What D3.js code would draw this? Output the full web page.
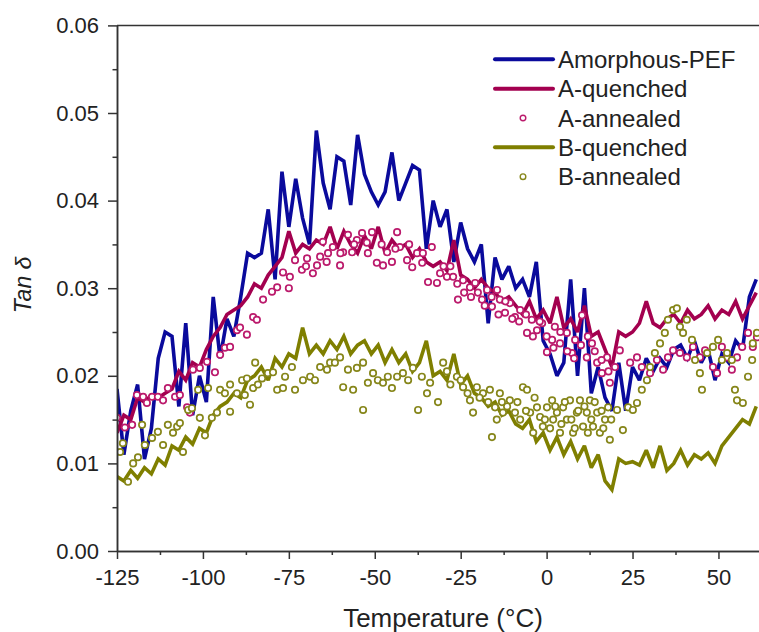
<!DOCTYPE html>
<html><head><meta charset="utf-8">
<script src="https://cdn.jsdelivr.net/npm/d3@7"></script>
<style>
body{margin:0;background:#fff}
svg{display:block}
text{font-family:"Liberation Sans",Arial,sans-serif;fill:#222}
</style>
</head><body>
<svg id="c" width="759" height="632"></svg>
<script>
// ---------------- DATA ----------------
const temps = [-125,-123,-121,-119,-117,-115,-113,-111,-109,-107,-105,-103,-101,-99,-97,-95,-93,-91,-89,-87,
  -85,-83,-81,-79,-77,-75,-73,-71,-69,-67,-65,-63,-61,-59,-57,-55,-53,-51,-49,-47,
  -45,-43,-41,-39,-37,-35,-33,-31,-29,-27,-25,-23,-21,-19,-17,-15,-13,-11,-9,-7,
  -5,-3,-1,1,3,5,7,9,11,13,15,17,19,21,23,25,27,29,31,33,
  35,37,39,41,43,45,47,49,51,53,55,57,59,61];

const amorphousPEF = [0.0185,0.0110,0.0160,0.0190,0.0105,0.0140,0.0220,0.0250,0.0245,0.0165,
  0.0260,0.0155,0.0200,0.0170,0.0290,0.0220,0.0265,0.0245,0.0290,0.0340,
  0.0335,0.0340,0.0390,0.0310,0.0433,0.0370,0.0425,0.0380,0.0350,0.0480,
  0.0420,0.0390,0.0450,0.0445,0.0395,0.0475,0.0430,0.0410,0.0395,0.0410,
  0.0455,0.0400,0.0420,0.0440,0.0435,0.0345,0.0400,0.0370,0.0390,0.0330,
  0.0375,0.0345,0.0330,0.0350,0.0260,0.0335,0.0310,0.0325,0.0300,0.0310,
  0.0290,0.0330,0.0240,0.0225,0.0200,0.0215,0.0310,0.0200,0.0300,0.0180,
  0.0210,0.0175,0.0160,0.0215,0.0160,0.0210,0.0195,0.0220,0.0205,0.0220,
  0.0210,0.0230,0.0235,0.0220,0.0240,0.0215,0.0230,0.0195,0.0225,0.0215,
  0.0240,0.0230,0.0290,0.0310];

const aQuenched = [0.0135,0.0155,0.0150,0.0175,0.0170,0.0178,0.0175,0.0180,0.0185,0.0205,
  0.0195,0.0215,0.0210,0.0230,0.0245,0.0255,0.0270,0.0275,0.0280,0.0290,
  0.0305,0.0300,0.0315,0.0325,0.0335,0.0365,0.0340,0.0350,0.0345,0.0355,
  0.0350,0.0370,0.0345,0.0365,0.0350,0.0340,0.0360,0.0345,0.0370,0.0340,
  0.0355,0.0345,0.0350,0.0335,0.0345,0.0330,0.0325,0.0330,0.0320,0.0355,
  0.0315,0.0310,0.0300,0.0310,0.0300,0.0295,0.0285,0.0290,0.0280,0.0270,
  0.0285,0.0265,0.0275,0.0260,0.0290,0.0255,0.0265,0.0250,0.0280,0.0245,
  0.0250,0.0230,0.0210,0.0250,0.0245,0.0250,0.0260,0.0285,0.0260,0.0255,
  0.0265,0.0270,0.0260,0.0275,0.0265,0.0270,0.0280,0.0265,0.0275,0.0270,
  0.0285,0.0265,0.0280,0.0295];

const bQuenched = [0.0085,0.0080,0.0092,0.0083,0.0095,0.0088,0.0105,0.0098,0.0120,0.0115,
  0.0130,0.0122,0.0140,0.0135,0.0155,0.0165,0.0170,0.0180,0.0175,0.0195,
  0.0200,0.0210,0.0195,0.0220,0.0210,0.0225,0.0220,0.0255,0.0225,0.0235,
  0.0225,0.0240,0.0230,0.0245,0.0225,0.0235,0.0240,0.0225,0.0235,0.0215,
  0.0230,0.0215,0.0225,0.0205,0.0215,0.0240,0.0200,0.0205,0.0195,0.0225,
  0.0190,0.0200,0.0180,0.0175,0.0165,0.0170,0.0155,0.0160,0.0145,0.0140,
  0.0150,0.0125,0.0135,0.0115,0.0130,0.0110,0.0125,0.0105,0.0120,0.0095,
  0.0110,0.0080,0.0070,0.0105,0.0100,0.0102,0.0098,0.0115,0.0095,0.0120,
  0.0092,0.0100,0.0115,0.0098,0.0110,0.0105,0.0112,0.0100,0.0120,0.0130,
  0.0140,0.0150,0.0145,0.0165];

const aAnnealed = [[-125.0,0.0152],[-122.7,0.0141],[-120.6,0.0144],[-119.2,0.0178],[-117.4,0.0176],
  [-116.3,0.0169],[-114.8,0.0176],[-113.1,0.0176],[-111.6,0.0172],[-110.2,0.0186],[-108.1,0.0176],
  [-106.7,0.0178],[-104.6,0.0164],[-103.8,0.0158],[-102.9,0.0207],[-100.9,0.0209],[-98.8,0.0216],
  [-96.5,0.0204],[-95.0,0.0224],[-93.6,0.0232],[-92.1,0.0233],[-90.1,0.0252],[-89.2,0.0255],
  [-87.2,0.0247],[-85.4,0.0267],[-84.3,0.0264],[-82.5,0.0287],[-79.9,0.0296],[-78.4,0.0301],
  [-76.7,0.0318],[-74.7,0.0313],[-73.2,0.0332],[-71.2,0.0321],[-69.7,0.0334],[-68.0,0.0317],
  [-66.8,0.0326],[-65.9,0.0336],[-65.1,0.0353],[-63.6,0.0340],[-62.2,0.0347],[-60.1,0.0326],
  [-59.2,0.0341],[-57.8,0.0361],[-56.6,0.0341],[-55.2,0.0355],[-53.7,0.0363],[-52.3,0.0352],
  [-50.8,0.0364],[-49.4,0.0329],[-47.6,0.0326],[-46.4,0.0341],[-45.0,0.0330],[-43.5,0.0364],
  [-42.7,0.0347],[-40.6,0.0332],[-39.1,0.0324],[-37.7,0.0340],[-36.2,0.0329],[-34.5,0.0307],
  [-33.4,0.0347],[-31.9,0.0306],[-31.0,0.0317],[-29.0,0.0313],[-27.2,0.0313],[-25.8,0.0287],
  [-24.3,0.0309],[-22.3,0.0301],[-20.8,0.0306],[-18.8,0.0287],[-17.3,0.0298],[-15.9,0.0279],
  [-14.4,0.0298],[-13.6,0.0287],[-12.1,0.0272],[-10.7,0.0283],[-9.2,0.0267],[-7.7,0.0275],
  [-5.7,0.0249],[-4.3,0.0264],[-2.8,0.0252],[-1.3,0.0260],[0.1,0.0227],[1.6,0.0241],[2.4,0.0256],
  [3.9,0.0237],[5.9,0.0249],[7.4,0.0226],[8.3,0.0241],[10.3,0.0269],[11.7,0.0221],[13.2,0.0237],
  [14.7,0.0215],[16.1,0.0203],[17.6,0.0221],[18.4,0.0192],[19.9,0.0210],[21.3,0.0229],[24.3,0.0215],
  [26.3,0.0221],[27.7,0.0210],[30.1,0.0203],[32.1,0.0218],[33.9,0.0207],[35.3,0.0221],[36.8,0.0229],
  [38.8,0.0226],[40.8,0.0221],[42.6,0.0233],[44.6,0.0221],[46.1,0.0229],[48.4,0.0210],[49.6,0.0203],
  [51.0,0.0233],[52.5,0.0221],[53.9,0.0207],[55.4,0.0221],[56.9,0.0233],[58.6,0.0249],[60.0,0.0233],
  [61.2,0.0244],
  [-24,0.0295],[-22,0.0290],[-20,0.0295],[-18,0.0280],[-16,0.0290],[-14,0.0270],[-12,0.0285],
  [-10,0.0265],[-8,0.0262],[-6,0.0270],[-4,0.0245],[-2,0.0262],[0,0.0245],[2,0.0232],[4,0.0250],
  [6,0.0228],[8,0.0220],[10,0.0235],[12,0.0245],[14,0.0228],[16,0.0218],[18,0.0205],[-28,0.0325],
  [-30,0.0325],[-26,0.0305],[-36,0.0340],[-40,0.0350],[-44,0.0345],[-48,0.0350],[-52,0.0340],
  [-56,0.0350],[-60,0.0340],[-64,0.0330],[-70,0.0325],[-75,0.0300]];

const bAnnealed = [[-124.1,0.0113],[-123.3,0.0123],[-121.8,0.0079],[-120.3,0.0100],[-118.9,0.0107],
  [-117.7,0.0144],[-116.9,0.0121],[-114.8,0.0129],[-113.1,0.0136],[-111.6,0.0121],[-110.2,0.0144],
  [-108.7,0.0135],[-107.5,0.0142],[-106.7,0.0146],[-105.8,0.0113],[-104.3,0.0161],[-103.2,0.0163],
  [-101.4,0.0184],[-100.9,0.0152],[-99.4,0.0132],[-98.5,0.0186],[-97.4,0.0152],[-95.9,0.0158],
  [-95.0,0.0184],[-93.6,0.0180],[-92.1,0.0190],[-92.1,0.0159],[-90.1,0.0180],[-88.6,0.0195],
  [-87.8,0.0178],[-87.2,0.0197],[-86.3,0.0167],[-85.4,0.0186],[-84.8,0.0215],[-84.0,0.0190],
  [-82.8,0.0197],[-81.1,0.0203],[-79.6,0.0204],[-78.4,0.0184],[-76.7,0.0186],[-76.1,0.0199],
  [-74.1,0.0210],[-73.2,0.0184],[-70.9,0.0195],[-68.8,0.0199],[-67.4,0.0195],[-65.9,0.0210],
  [-63.9,0.0207],[-63.0,0.0215],[-61.6,0.0215],[-60.1,0.0221],[-59.2,0.0187],[-57.8,0.0207],
  [-56.3,0.0184],[-55.2,0.0209],[-53.4,0.0215],[-53.4,0.0161],[-52.0,0.0192],[-50.5,0.0203],
  [-49.1,0.0195],[-47.6,0.0192],[-46.2,0.0199],[-45.0,0.0186],[-43.5,0.0199],[-41.8,0.0203],
  [-40.3,0.0195],[-38.9,0.0209],[-37.4,0.0161],[-36.3,0.0199],[-34.8,0.0180],[-33.9,0.0192],
  [-31.6,0.0170],[-30.1,0.0215],[-26.1,0.0199],[-24.3,0.0187],[-22.3,0.0172],[-21.4,0.0158],
  [-20.3,0.0187],[-18.5,0.0180],[-16.5,0.0184],[-15.9,0.0130],[-15.0,0.0164],[-13.6,0.0180],
  [-12.7,0.0158],[-10.7,0.0172],[-9.2,0.0158],[-7.7,0.0150],[-6.9,0.0187],[-5.7,0.0184],
  [-4.8,0.0158],[-3.9,0.0135],[-2.8,0.0164],[-1.9,0.0153],[-1.1,0.0142],[0.1,0.0164],[1.6,0.0172],
  [1.9,0.0150],[3.0,0.0158],[3.9,0.0135],[4.8,0.0164],[5.9,0.0150],[6.8,0.0172],[7.7,0.0135],
  [8.8,0.0158],[9.7,0.0172],[10.6,0.0142],[11.7,0.0158],[12.6,0.0172],[13.5,0.0142],[14.7,0.0158],
  [15.5,0.0135],[17.0,0.0150],[17.9,0.0164],[18.4,0.0127],[20.5,0.0161],[22.2,0.0138],[23.7,0.0164],
  [25.1,0.0161],[26.3,0.0169],[27.7,0.0184],[29.2,0.0195],[30.1,0.0210],[31.5,0.0226],[33.0,0.0237],
  [34.4,0.0249],[35.3,0.0264],[36.8,0.0275],[37.9,0.0277],[38.8,0.0256],[39.7,0.0249],[40.8,0.0264],
  [42.3,0.0241],[43.2,0.0218],[44.6,0.0203],[45.2,0.0184],[46.7,0.0226],[48.4,0.0233],[49.9,0.0241],
  [51.0,0.0218],[52.5,0.0226],[53.9,0.0218],[54.8,0.0184],[55.4,0.0172],[57.1,0.0169],[58.6,0.0199],
  [59.8,0.0218],[60.0,0.0237],[61.2,0.0249],
  [-8.5,0.0170],[-6,0.0160],[-3.5,0.0175],[-0.5,0.0150],[1,0.0140],[2.5,0.0165],[4.3,0.0145],
  [5.3,0.0170],[7.2,0.0150],[8.2,0.0140],[9.2,0.0160],[11,0.0165],[12,0.0135],[13,0.0150],
  [14,0.0170],[16,0.0160],[16.5,0.0140],[18.8,0.0150],[-11.5,0.0165],[-13,0.0170],[-14.5,0.0150],
  [-17,0.0170],[-19.5,0.0175],[-23,0.0180],[-25,0.0195],[-28,0.0190],[-29,0.0205]];

const xMajorTicks = [-125,-100,-75,-50,-25,0,25,50];
const xMinorTicks = [-112.5,-87.5,-62.5,-37.5,-12.5,12.5,37.5];
const yMajorTicks = [0,0.01,0.02,0.03,0.04,0.05,0.06];
const yMinorTicks = [0.005,0.015,0.025,0.035,0.045,0.055];

const seriesNames = ["Amorphous-PEF","A-quenched","A-annealed","B-quenched","B-annealed"];
const colors = {blue:"#0a0a9c", crimson:"#a3004f", magenta:"#bb1a6c", olive:"#7f7f00", oliveMk:"#86861a"};

// ---------------- CHART ----------------
const svg = d3.select("#c");
const x = d3.scaleLinear().domain([-125, 62]).range([117, 759.7]);
const y = d3.scaleLinear().domain([0, 0.06]).range([551, 25.4]);

svg.append("defs").append("clipPath").attr("id","clip")
  .append("rect").attr("x",117).attr("y",0).attr("width",660).attr("height",551);

const plot = svg.append("g").attr("clip-path","url(#clip)");
const line = d3.line().x((d,i)=>x(temps[i])).y(d=>y(d));

function drawLine(vals, col){
  plot.append("path").datum(vals).attr("d", line)
    .attr("fill","none").attr("stroke",col).attr("stroke-width",3.6)
    .attr("stroke-linejoin","miter").attr("stroke-miterlimit",2.5);
}
function drawPts(pts, col){
  plot.append("g").selectAll("circle").data(pts).join("circle")
    .attr("cx",d=>x(d[0])).attr("cy",d=>y(d[1])).attr("r",3.2)
    .attr("fill","#fff").attr("stroke",col).attr("stroke-width",1.7);
}
drawLine(amorphousPEF, colors.blue);
drawLine(aQuenched, colors.crimson);
drawPts(aAnnealed, colors.magenta);
drawLine(bQuenched, colors.olive);
drawPts(bAnnealed, colors.oliveMk);

// axes
const axisColor = "#333";
const gy = svg.append("g").attr("transform","translate(117,0)")
  .call(d3.axisLeft(y).tickValues(yMajorTicks).tickSize(9).tickSizeOuter(0).tickPadding(9).tickFormat(d3.format(".2f")));
const gyMinor = svg.append("g").attr("transform","translate(117,0)")
  .call(d3.axisLeft(y).tickValues(yMinorTicks).tickSize(4.5).tickSizeOuter(0).tickFormat(""));
const gx = svg.append("g").attr("transform","translate(0,551)")
  .call(d3.axisBottom(x).tickValues(xMajorTicks).tickSize(8).tickSizeOuter(0).tickPadding(10).tickFormat(d=>d));
const gxMinor = svg.append("g").attr("transform","translate(0,551)")
  .call(d3.axisBottom(x).tickValues(xMinorTicks).tickSize(4).tickSizeOuter(0).tickFormat(""));
[gy,gyMinor,gx,gxMinor].forEach(g=>{
  g.selectAll("path,line").attr("stroke",axisColor).attr("stroke-width",1.5);
  g.selectAll("text").attr("font-size",22).attr("fill","#222")
    .style("font-family","'Liberation Sans', Arial, sans-serif");
});
// top border
svg.append("line").attr("x1",117).attr("x2",759).attr("y1",y(0.06)).attr("y2",y(0.06))
  .attr("stroke",axisColor).attr("stroke-width",1.5);

// axis titles
svg.append("text").attr("x",443).attr("y",627).attr("text-anchor","middle")
  .attr("font-size",26).text("Temperature (°C)");
svg.append("text").attr("transform","translate(31,285) rotate(-90)").attr("text-anchor","middle")
  .attr("font-size",23).attr("font-style","italic").text("Tan δ");

// legend
const legRows = [59.3, 88.7, 118.0, 147.3, 176.7];
const legStyle = [
  {type:"line", col:colors.blue},
  {type:"line", col:colors.crimson},
  {type:"pt", col:colors.magenta},
  {type:"line", col:colors.olive},
  {type:"pt", col:colors.oliveMk}];
const leg = svg.append("g");
seriesNames.forEach((n,i)=>{
  const s = legStyle[i], yy = legRows[i];
  if (s.type==="line") {
    leg.append("line").attr("x1",495).attr("x2",553).attr("y1",yy).attr("y2",yy)
      .attr("stroke",s.col).attr("stroke-width",4).attr("stroke-linecap","round");
  } else {
    leg.append("circle").attr("cx",523).attr("cy",yy).attr("r",2.8)
      .attr("fill","#fff").attr("stroke",s.col).attr("stroke-width",1.4);
  }
  leg.append("text").attr("x",558).attr("y",yy+8.6).attr("font-size",24).text(n);
});
</script>
</body></html>
